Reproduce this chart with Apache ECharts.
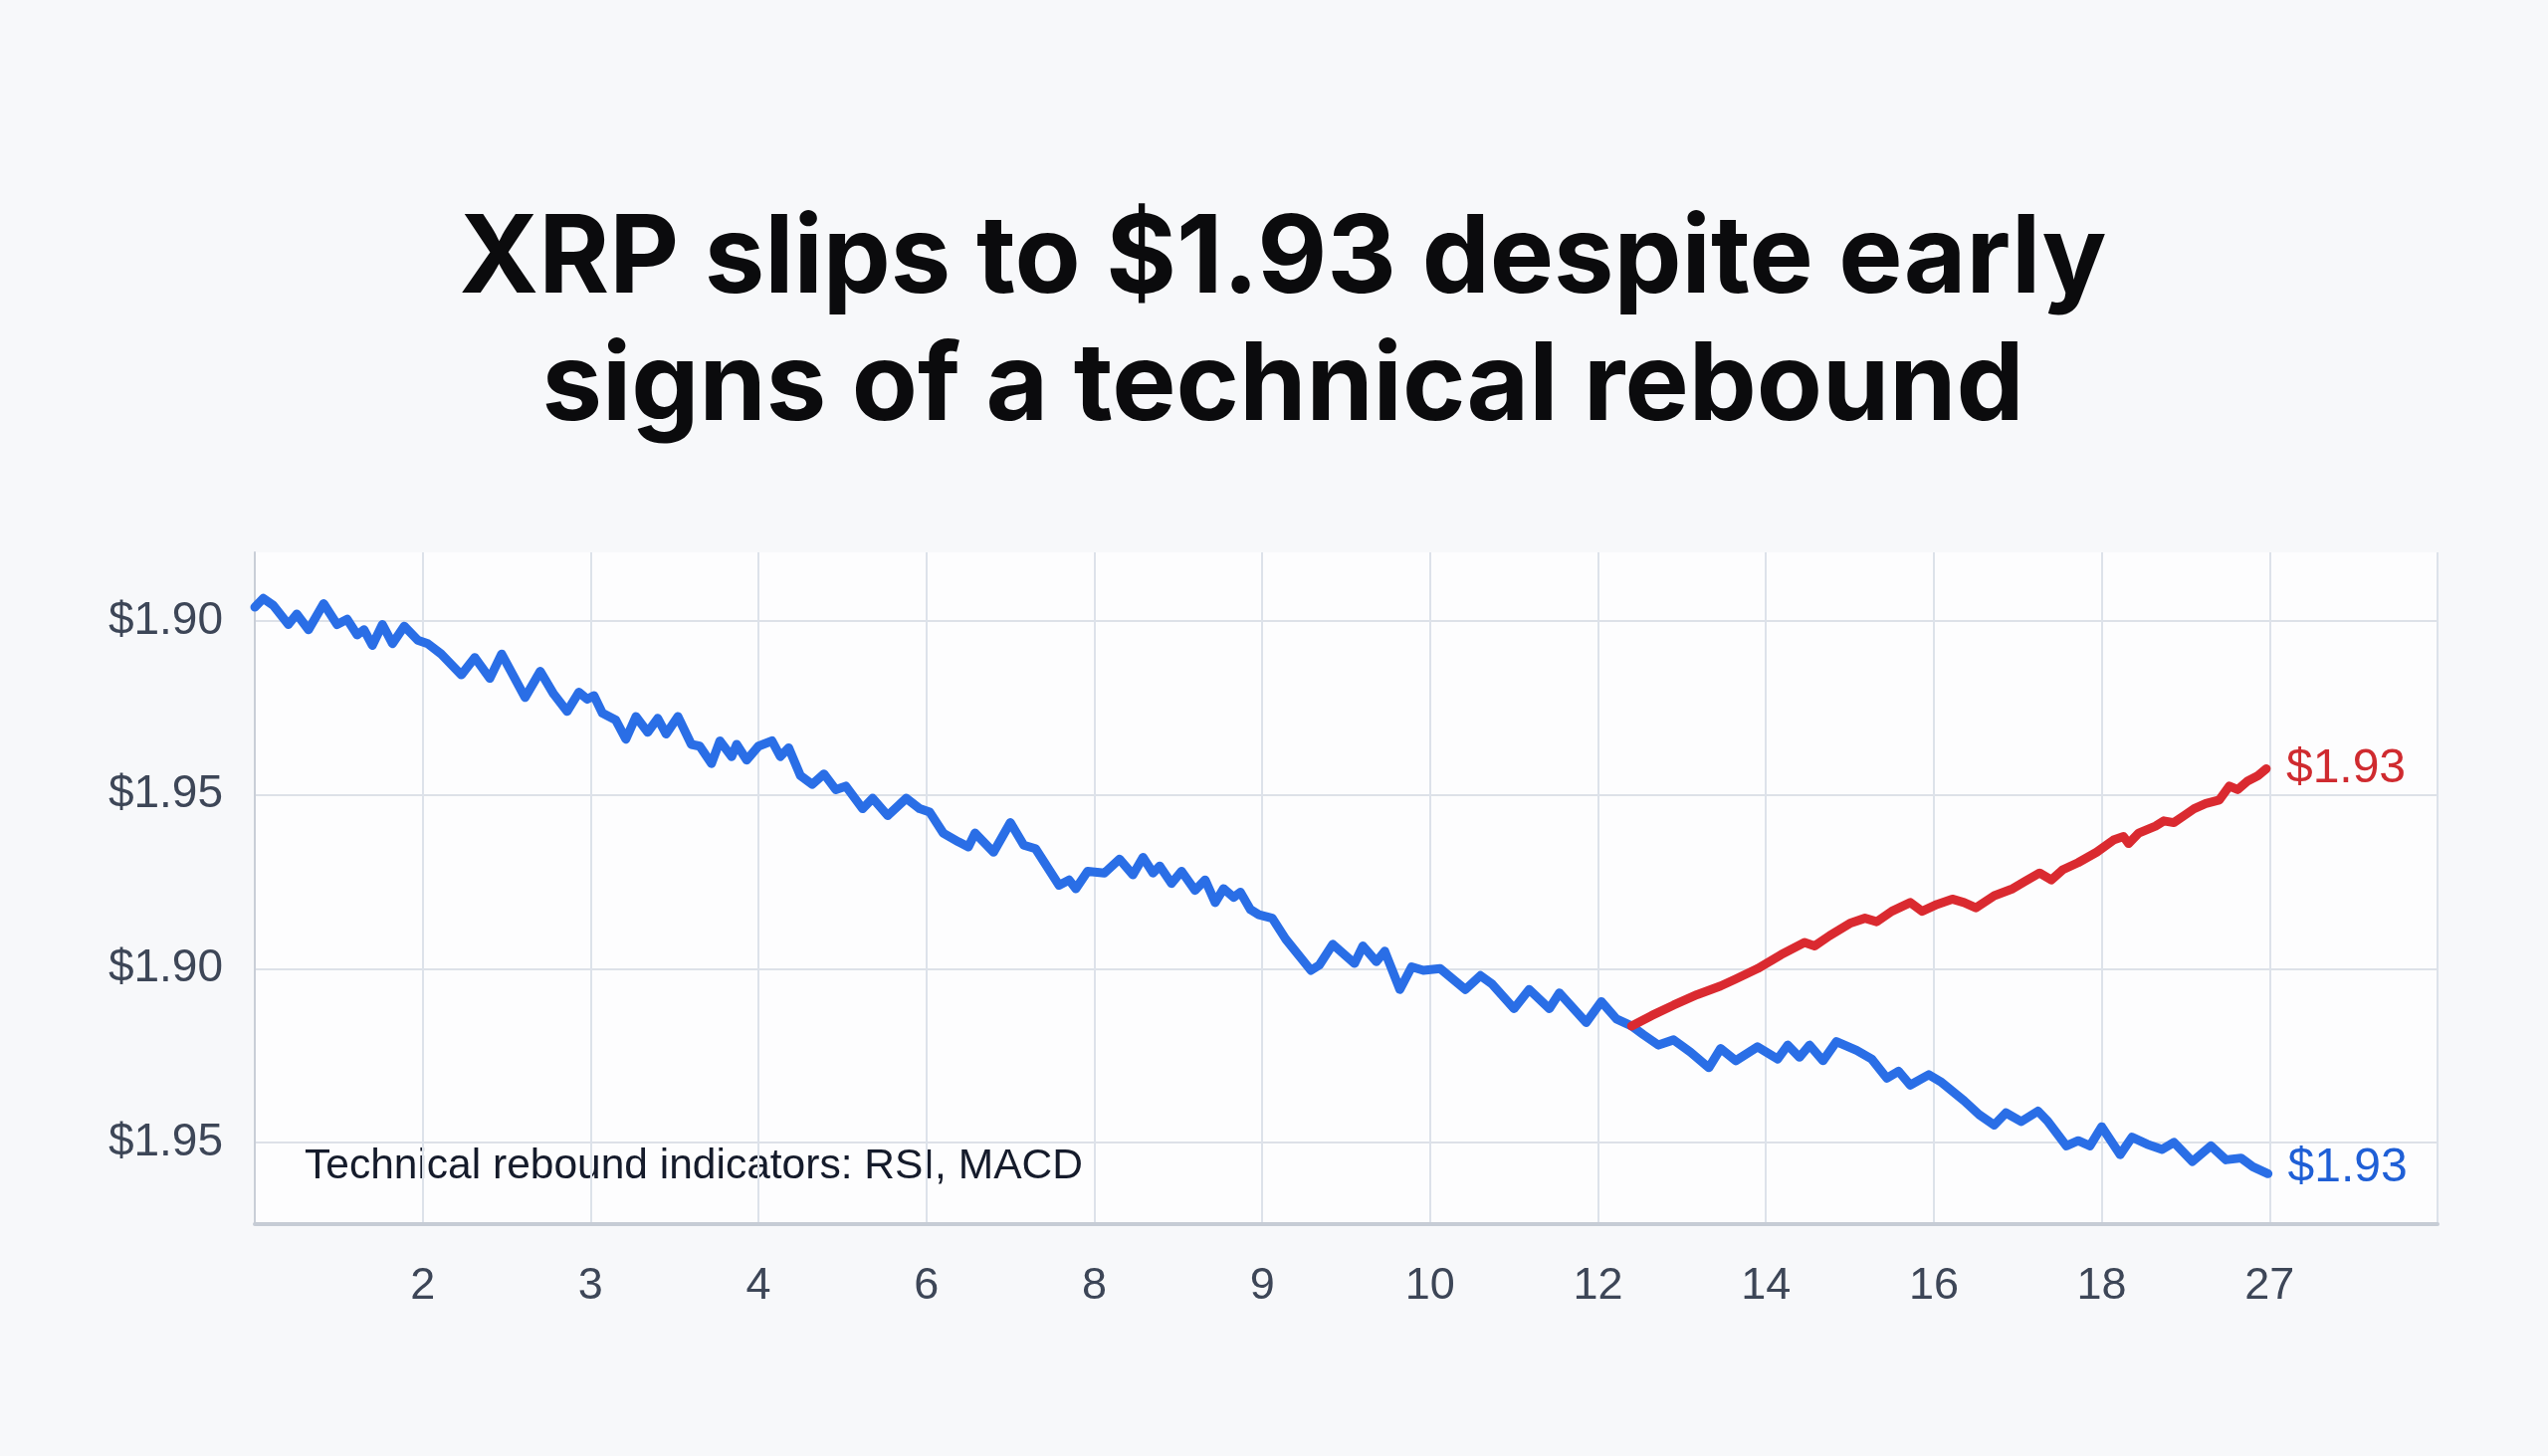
<!DOCTYPE html>
<html>
<head>
<meta charset="utf-8">
<script src="https://cdn.jsdelivr.net/npm/echarts@6/dist/echarts.min.js"></script>
<style>
  html, body { margin: 0; padding: 0; background: #f7f8fa; }
  #chart { width: 2560px; height: 1463px; }
</style>
</head>
<body>
<div id="chart"></div>
<script>
// tick labels as printed on the chart
var xLabels = ['', '2', '3', '4', '6', '8', '9', '10', '12', '14', '16', '18', '27', ''];
var yLabels = ['$1.95', '$1.90', '$1.95', '$1.90']; // bottom to top
var yTicks = [0, 1, 2, 3];
var endLabelText = '$1.93';
var titleText = 'XRP slips to $1.93 despite early\nsigns of a technical rebound';
var noteText = 'Technical rebound indicators: RSI, MACD';

// price path, [day position, level]
var bluePrice = [
    [0, 3.08], [0.05, 3.13], [0.11, 3.09], [0.20, 2.98], [0.25, 3.04], [0.32, 2.95], [0.41, 3.10], [0.49, 2.98], [0.55, 3.01], [0.61, 2.92],
    [0.65, 2.95], [0.70, 2.86], [0.76, 2.98], [0.82, 2.87], [0.89, 2.97], [0.97, 2.89], [1.03, 2.87], [1.11, 2.81], [1.23, 2.69], [1.31, 2.79],
    [1.40, 2.67], [1.47, 2.81], [1.61, 2.56], [1.70, 2.71], [1.78, 2.58], [1.86, 2.48], [1.93, 2.59], [1.98, 2.55], [2.02, 2.57], [2.07, 2.47],
    [2.15, 2.43], [2.21, 2.32], [2.27, 2.45], [2.34, 2.36], [2.40, 2.44], [2.45, 2.35], [2.52, 2.45], [2.60, 2.29], [2.65, 2.28], [2.72, 2.18],
    [2.77, 2.31], [2.84, 2.22], [2.87, 2.29], [2.93, 2.20], [3.00, 2.28], [3.08, 2.31], [3.13, 2.22], [3.18, 2.27], [3.25, 2.11], [3.32, 2.06],
    [3.39, 2.12], [3.46, 2.03], [3.52, 2.05], [3.62, 1.92], [3.68, 1.98], [3.77, 1.88], [3.88, 1.98], [3.96, 1.92], [4.02, 1.90], [4.10, 1.78],
    [4.19, 1.73], [4.25, 1.70], [4.29, 1.78], [4.40, 1.67], [4.50, 1.84], [4.58, 1.71], [4.65, 1.69], [4.79, 1.48], [4.85, 1.51], [4.89, 1.46],
    [4.96, 1.56], [5.06, 1.55], [5.15, 1.63], [5.23, 1.54], [5.29, 1.64], [5.35, 1.55], [5.39, 1.59], [5.46, 1.49], [5.52, 1.56], [5.60, 1.45],
    [5.66, 1.51], [5.72, 1.38], [5.77, 1.46], [5.83, 1.41], [5.87, 1.44], [5.93, 1.34], [5.98, 1.31], [6.06, 1.29], [6.14, 1.17], [6.29, 0.99],
    [6.34, 1.02], [6.42, 1.14], [6.55, 1.03], [6.60, 1.13], [6.68, 1.04], [6.73, 1.10], [6.82, 0.88], [6.89, 1.01], [6.96, 0.99], [7.06, 1.00],
    [7.21, 0.88], [7.30, 0.96], [7.37, 0.91], [7.50, 0.77], [7.59, 0.88], [7.71, 0.77], [7.77, 0.86], [7.93, 0.69], [8.02, 0.81], [8.11, 0.71],
    [8.20, 0.67], [8.27, 0.62], [8.36, 0.56], [8.45, 0.59], [8.55, 0.52], [8.66, 0.43], [8.73, 0.54], [8.82, 0.47], [8.95, 0.55], [9.07, 0.48],
    [9.13, 0.56], [9.20, 0.49], [9.26, 0.56], [9.34, 0.47], [9.42, 0.58], [9.54, 0.53], [9.63, 0.48], [9.72, 0.37], [9.79, 0.41], [9.86, 0.33],
    [9.97, 0.39], [10.04, 0.35], [10.18, 0.24], [10.27, 0.16], [10.36, 0.10], [10.43, 0.17], [10.52, 0.12], [10.62, 0.18], [10.68, 0.12], [10.79, -0.02],
    [10.86, 0.01], [10.93, -0.02], [11.00, 0.09], [11.11, -0.07], [11.18, 0.03], [11.27, -0.01], [11.36, -0.04], [11.43, 0.00], [11.54, -0.11], [11.65, -0.02],
    [11.74, -0.10], [11.83, -0.09], [11.90, -0.14], [11.99, -0.18]
];

// rebound path branching off at day 8.2
var redPrice = [
    [8.20, 0.67], [8.32, 0.73], [8.45, 0.79], [8.59, 0.85], [8.73, 0.90], [8.82, 0.94], [8.95, 1.00], [9.09, 1.08], [9.23, 1.15], [9.29, 1.13],
    [9.38, 1.19], [9.50, 1.26], [9.59, 1.29], [9.66, 1.27], [9.75, 1.33], [9.86, 1.38], [9.93, 1.33], [10.02, 1.37], [10.11, 1.40], [10.18, 1.38],
    [10.25, 1.35], [10.36, 1.42], [10.47, 1.46], [10.54, 1.50], [10.63, 1.55], [10.70, 1.51], [10.77, 1.57], [10.86, 1.61], [10.97, 1.67], [11.07, 1.74],
    [11.13, 1.76], [11.16, 1.72], [11.22, 1.78], [11.32, 1.82], [11.37, 1.85], [11.43, 1.84], [11.49, 1.88], [11.55, 1.92], [11.62, 1.95], [11.70, 1.97],
    [11.76, 2.05], [11.81, 2.03], [11.87, 2.08], [11.93, 2.11], [11.98, 2.15]
];

var chart = echarts.init(document.getElementById('chart'));

var option = {
    backgroundColor: '#f7f8fa',
    animation: false,
    grid: {
        left: 256,
        right: 111,
        top: 555,
        bottom: 233,
        show: true,
        backgroundColor: '#fdfdfe',
        borderWidth: 0
    },
    xAxis: {
        type: 'value',
        min: 0,
        max: 13,
        interval: 1,
        axisLine: { show: true, onZero: false, lineStyle: { color: '#c6ccd5', width: 4 } },
        axisTick: { show: false },
        axisLabel: {
            margin: 40,
            fontFamily: 'Liberation Sans',
            fontSize: 45,
            color: '#3d4657',
            formatter: function (v) { return xLabels[v] || ''; }
        },
        splitLine: { show: true, lineStyle: { color: '#dde2ea', width: 2 } }
    },
    yAxis: {
        type: 'value',
        min: -0.47,
        max: 3.395,
        axisLine: { show: true, lineStyle: { color: '#c9ced7', width: 2 } },
        axisTick: { show: false, customValues: yTicks },
        axisLabel: {
            customValues: yTicks,
            margin: 32,
            fontFamily: 'Liberation Sans',
            fontSize: 46,
            color: '#3d4657',
            formatter: function (v) { return yLabels[Math.round(v)]; }
        },
        splitLine: { show: true, lineStyle: { color: '#dde1e8', width: 2 } }
    },
    graphic: [
        {
            type: 'text',
            x: 1289,
            y: 326,
            style: {
                text: titleText,
                align: 'center',
                verticalAlign: 'middle',
                fontFamily: 'Inter',
                fontWeight: 700,
                fontSize: 108,
                lineHeight: 128,
                fill: '#0b0b0d'
            }
        },
        {
            type: 'text',
            left: 306,
            top: 1151,
            style: {
                text: noteText,
                fontFamily: 'Liberation Sans',
                fontSize: 42.5,
                fill: '#151b2b'
            }
        }
    ],
    series: [
        {
            name: 'XRP',
            type: 'line',
            data: bluePrice,
            showSymbol: false,
            lineStyle: { color: '#2a6ee6', width: 9, join: 'round', cap: 'round' },
            endLabel: {
                show: true,
                formatter: endLabelText,
                offset: [12, -6],
                fontFamily: 'Liberation Sans',
                fontSize: 48,
                color: '#1f5fd6'
            },
            z: 2
        },
        {
            name: 'Rebound',
            type: 'line',
            data: redPrice,
            showSymbol: false,
            lineStyle: { color: '#da2a30', width: 9, join: 'round', cap: 'round' },
            endLabel: {
                show: true,
                formatter: endLabelText,
                offset: [12, 0],
                fontFamily: 'Liberation Sans',
                fontSize: 48,
                color: '#cf2a2f'
            },
            z: 3
        }
    ]
};

chart.setOption(option);
</script>
</body>
</html>
